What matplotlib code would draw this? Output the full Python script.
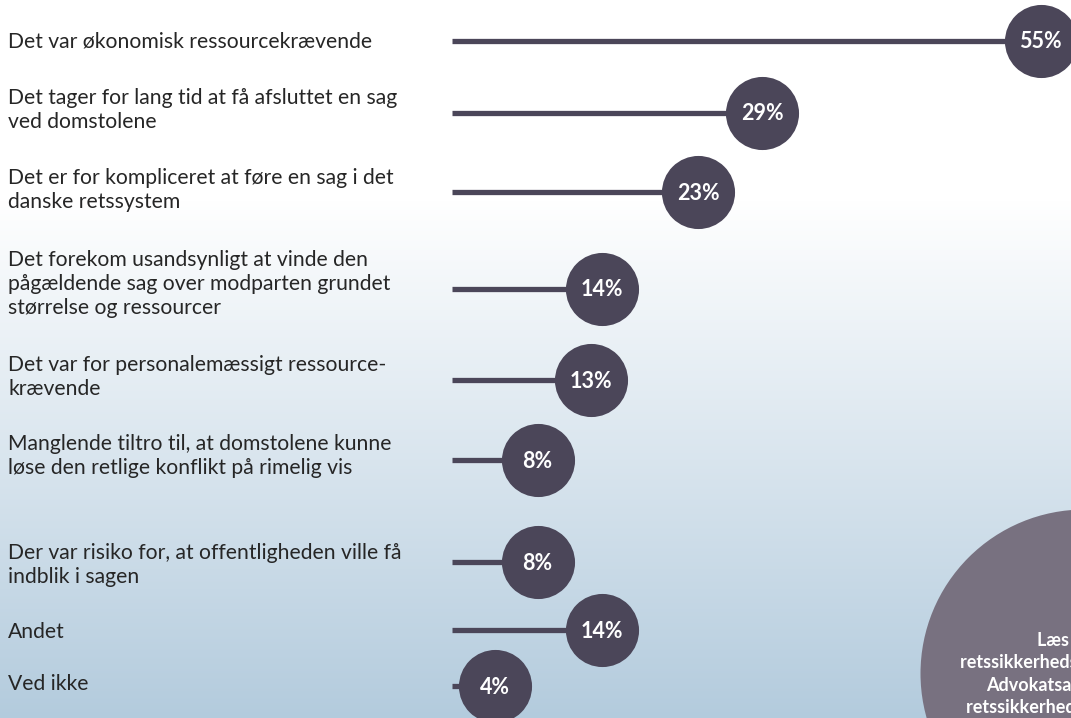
import numpy as np
import matplotlib
matplotlib.use("Agg")
import matplotlib.pyplot as plt

# survey answers (share of respondents)
labels = [
    "Det var økonomisk ressourcekrævende",
    "Det tager for lang tid at få afsluttet en sag\nved domstolene",
    "Det er for kompliceret at føre en sag i det\ndanske retssystem",
    "Det forekom usandsynligt at vinde den\npågældende sag over modparten grundet\nstørrelse og ressourcer",
    "Det var for personalemæssigt ressource-\nkrævende",
    "Manglende tiltro til, at domstolene kunne\nløse den retlige konflikt på rimelig vis",
    "Der var risiko for, at offentligheden ville få\nindblik i sagen",
    "Andet",
    "Ved ikke",
]
values = [55, 29, 23, 14, 13, 8, 8, 14, 4]
value_labels = [f"{v}%" for v in values]

callout_text = "Læs mere om\nretssikkerhedsundersøgelsen fra\nAdvokatsamfundet og læs\nretssikkerhedsbarometeret her"

# layout (pixels from top of a 1071x718 canvas)
W, H = 1071, 718
row_y = [41, 113, 192, 289, 380, 460, 562, 630, 686]
label_y = [42, 110, 190, 284, 377, 456, 565, 632, 684]
x0_px = 452
px_per_pct = 10.7

dark = "#4b4659"
callout_col = "#787180"
text_col = "#262626"

fig = plt.figure(figsize=(W / 100, H / 100), dpi=100)
ax = fig.add_axes([0, 0, 1, 1])
ax.set_xlim(-x0_px / px_per_pct, (W - x0_px) / px_per_pct)
ax.set_ylim(H, 0)
ax.axis("off")

# background: white at top fading to pale blue
grad = np.ones((H, 1, 3))
top = np.array([1.0, 1.0, 1.0])
bottom = np.array([0xB3, 0xCB, 0xDD]) / 255
t = np.clip((np.arange(H) - 200) / (H - 200), 0, 1)[:, None]
grad[:, 0, :] = top * (1 - t) + bottom * t
ax.imshow(grad, extent=(*ax.get_xlim(), H, 0), aspect="auto", zorder=0)

# lollipops
ax.hlines(row_y, 0, values, color=dark, linewidth=3.8, capstyle="butt", zorder=2)
ax.scatter(values, row_y, s=2770, color=dark, linewidths=0, zorder=3)
for v, y, s in zip(values, row_y, value_labels):
    ax.text(v, y + 1, s, ha="center", va="center", color="white",
            fontsize=15.5, fontweight="bold", family="Lato", zorder=4)

for lab, y in zip(labels, label_y):
    ax.text(-x0_px / px_per_pct + 0.75, y, lab, ha="left", va="center",
            color=text_col, fontsize=15.2, family="Lato", linespacing=1.24, zorder=4)

# callout circle bottom right (cut off by the edge)
cx = (1084 - x0_px) / px_per_pct
ax.scatter([cx], [673], s=(328 * 0.72) ** 2, color=callout_col, linewidths=0, zorder=2)
ax.text(cx + 0.6, 674, callout_text, ha="center", va="center", color="white",
        fontsize=13, fontweight="bold", family="Lato", linespacing=1.4, zorder=4)

fig.savefig("out.png", dpi=100)
